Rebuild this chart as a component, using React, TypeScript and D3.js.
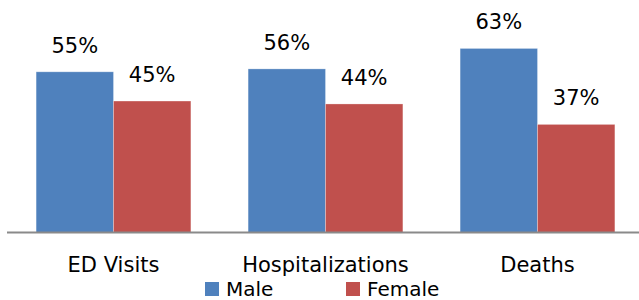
import { useEffect, useRef } from 'react';
import * as d3 from 'd3';

const categories = ['ED Visits', 'Hospitalizations', 'Deaths'];
const seriesNames = ['Male', 'Female'];
const maleValues = [55, 56, 63];
const femaleValues = [45, 44, 37];
const colors = ['#4F81BD', '#C0504D'];

const width = 639;
const height = 300;

const App = () => {
  const ref = useRef<SVGSVGElement | null>(null);

  useEffect(() => {
    const svg = d3.select(ref.current);
    svg.selectAll('*').remove();

    const baseline = 232.5;
    const font = '"DejaVu Sans", sans-serif';

    const x0 = d3.scaleBand().domain(categories).range([7.5, 643.5]).paddingInner(0.27).paddingOuter(0.135);
    const x1 = d3.scaleBand().domain(seriesNames).range([0, x0.bandwidth()]);
    const y = d3.scaleLinear().domain([0, 70]).range([baseline, 28]);

    const rows = categories.map((c, i) => ({ cat: c, vals: [maleValues[i], femaleValues[i]] }));

    const groups = svg
      .selectAll('g.grp')
      .data(rows)
      .enter()
      .append('g')
      .attr('class', 'grp')
      .attr('transform', (d) => `translate(${x0(d.cat)},0)`);

    groups
      .selectAll('rect')
      .data((d) => d.vals.map((v, j) => ({ name: seriesNames[j], v, j })))
      .enter()
      .append('rect')
      .attr('x', (d) => x1(d.name)!)
      .attr('y', (d) => y(d.v))
      .attr('width', x1.bandwidth())
      .attr('height', (d) => baseline - y(d.v))
      .attr('fill', (d) => colors[d.j])
      .attr('stroke', 'rgba(255,255,255,0.35)')
      .attr('stroke-width', 0.8);

    groups
      .selectAll('text.lbl')
      .data((d) => d.vals.map((v, j) => ({ name: seriesNames[j], v })))
      .enter()
      .append('text')
      .attr('class', 'lbl')
      .attr('x', (d) => x1(d.name)! + x1.bandwidth() / 2)
      .attr('y', (d) => y(d.v) - 19)
      .attr('text-anchor', 'middle')
      .style('font-family', font)
      .style('font-size', '21px')
      .attr('fill', '#000')
      .text((d) => `${d.v}%`);

    // axis line
    svg
      .append('line')
      .attr('x1', 7)
      .attr('x2', width)
      .attr('y1', baseline)
      .attr('y2', baseline)
      .attr('stroke', '#8a8a8a')
      .attr('stroke-width', 2);

    svg
      .selectAll('text.cat')
      .data(categories)
      .enter()
      .append('text')
      .attr('class', 'cat')
      .attr('x', (d) => x0(d)! + x0.bandwidth() / 2)
      .attr('y', 272)
      .attr('text-anchor', 'middle')
      .style('font-family', font)
      .style('font-size', '21px')
      .attr('fill', '#000')
      .text((d) => d);

    // legend
    const legendX = [205, 346];
    const legend = svg
      .selectAll('g.leg')
      .data(seriesNames)
      .enter()
      .append('g')
      .attr('class', 'leg')
      .attr('transform', (_d, i) => `translate(${legendX[i]},282)`);

    legend
      .append('rect')
      .attr('width', 14)
      .attr('height', 14)
      .attr('fill', (_d, i) => colors[i]);

    legend
      .append('text')
      .attr('x', 21)
      .attr('y', 13.5)
      .style('font-family', font)
      .style('font-size', '20px')
      .attr('fill', '#000')
      .text((d) => d);
  }, []);

  return (
    <svg
      ref={ref}
      width={width}
      height={height}
      style={{ position: 'absolute', left: 0, top: 0, background: '#fff' }}
    />
  );
};

export default App;
